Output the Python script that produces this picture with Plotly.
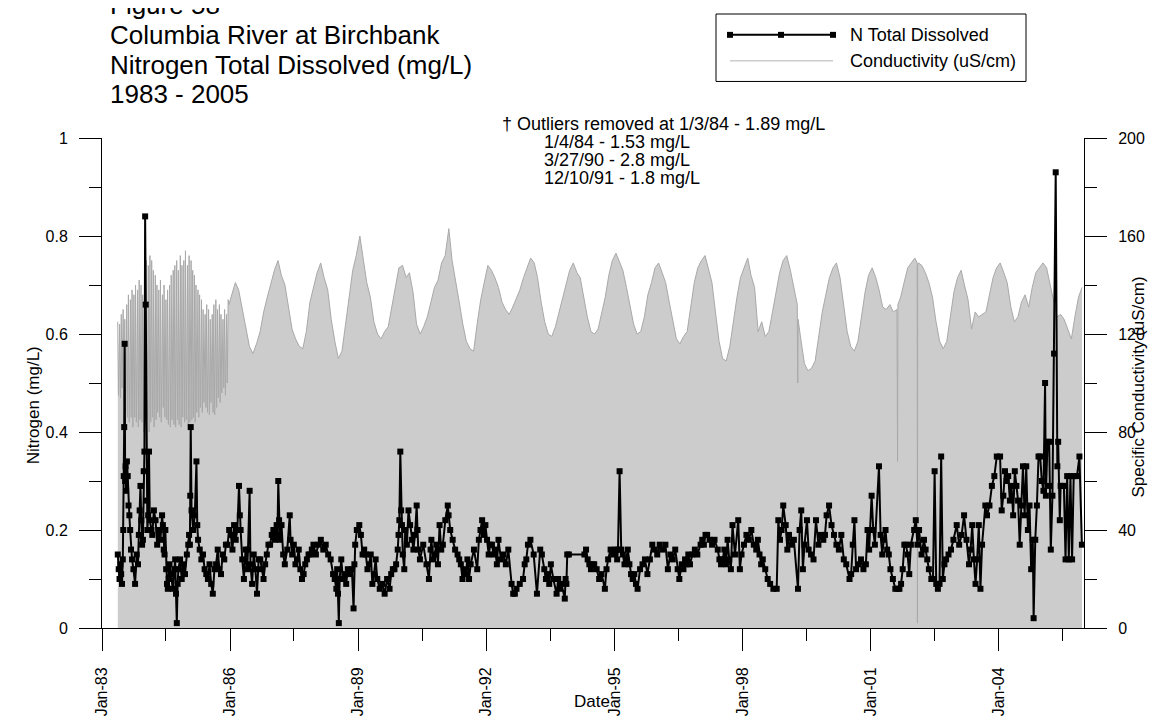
import plotly.graph_objects as go

# ---- data ----
# nitrogen total dissolved (mg/L)
n_dates = [
    "1983-05-16","1983-05-24","1983-05-31","1983-06-07","1983-06-14","1983-06-21","1983-06-28",
    "1983-07-02","1983-07-06","1983-07-10","1983-07-14","1983-07-18","1983-07-22","1983-07-26",
    "1983-08-02","1983-08-09","1983-08-16","1983-08-23","1983-08-30",
    "1983-09-06","1983-09-15","1983-09-27","1983-10-11","1983-10-25","1983-11-05",
    "1983-11-12","1983-11-19","1983-11-26","1983-12-03","1983-12-10",
    "1983-12-17","1983-12-24","1983-12-30",
    "1984-01-05","1984-01-10","1984-01-17","1984-01-24",
    "1984-01-31","1984-02-07","1984-02-14","1984-02-28",
    "1984-03-06","1984-03-20","1984-04-03","1984-04-17","1984-05-01","1984-05-15","1984-05-29","1984-06-05","1984-06-12","1984-06-19","1984-06-26",
    "1984-07-03","1984-07-10","1984-07-17","1984-07-24","1984-07-31","1984-08-14","1984-08-28","1984-09-11","1984-09-18",
    "1984-09-25","1984-10-02","1984-10-09",
    "1984-10-16","1984-10-30","1984-11-13","1984-11-27","1984-12-11","1984-12-27",
    "1985-01-08","1985-01-15","1985-01-22","1985-01-25","1985-01-29","1985-02-05","1985-02-19","1985-03-05","1985-03-19","1985-03-26",
    "1985-04-02","1985-04-16","1985-04-30","1985-05-14","1985-05-28",
    "1985-06-11","1985-06-25","1985-07-09","1985-07-23","1985-08-06","1985-08-20",
    "1985-09-03","1985-09-17","1985-10-01","1985-10-15","1985-10-29","1985-11-12","1985-11-26",
    "1985-12-10","1985-12-24",
    "1986-01-07","1986-01-21","1986-02-04","1986-02-18","1986-03-04","1986-03-18","1986-03-25","1986-04-01","1986-04-15","1986-04-29","1986-05-13",
    "1986-05-27","1986-06-03","1986-06-17","1986-06-24",
    "1986-07-08","1986-07-22","1986-08-05","1986-08-19","1986-09-02",
    "1986-09-16","1986-09-30","1986-10-14","1986-10-28","1986-11-11","1986-11-25","1986-12-09","1986-12-23",
    "1987-01-06","1987-01-20","1987-02-03","1987-02-10","1987-02-17","1987-02-24","1987-03-03","1987-03-17","1987-03-31",
    "1987-04-14","1987-05-05","1987-05-26","1987-06-02","1987-06-16","1987-06-30","1987-07-14","1987-07-28","1987-08-11",
    "1987-08-25","1987-09-08","1987-09-22","1987-10-06","1987-10-20","1987-11-03","1987-11-17","1987-12-01","1987-12-15",
    "1988-01-05","1988-01-26","1988-02-16","1988-03-08","1988-03-29","1988-04-19","1988-05-10",
    "1988-05-31","1988-06-14","1988-06-28","1988-07-05","1988-07-12","1988-07-19","1988-07-26","1988-08-09",
    "1988-08-23","1988-09-06","1988-09-20","1988-10-04","1988-10-25","1988-11-08","1988-11-22","1988-11-29",
    "1988-12-06","1988-12-20",
    "1989-01-10","1989-01-24","1989-02-07","1989-02-21","1989-03-07","1989-03-21","1989-04-04","1989-04-18","1989-05-02",
    "1989-05-16","1989-05-30","1989-06-13","1989-07-04","1989-07-25","1989-08-15","1989-09-05","1989-09-26","1989-10-10",
    "1989-10-24","1989-11-07","1989-11-21","1989-12-05","1989-12-12","1989-12-19","1989-12-27",
    "1990-01-03","1990-01-10","1990-01-17","1990-01-30","1990-02-07","1990-02-21","1990-03-07","1990-03-21","1990-04-04",
    "1990-04-18","1990-05-02","1990-05-16","1990-05-23","1990-05-30","1990-06-13","1990-07-11","1990-08-08","1990-08-29",
    "1990-09-12","1990-09-19","1990-10-03","1990-10-17","1990-10-31","1990-11-14","1990-11-28","1990-12-12","1990-12-26",
    "1991-01-16","1991-02-06","1991-02-13","1991-02-27","1991-03-20","1991-04-10","1991-05-01","1991-05-15","1991-05-29",
    "1991-06-12","1991-06-26","1991-07-10","1991-07-24","1991-08-07","1991-08-21","1991-09-18","1991-10-16","1991-10-30",
    "1991-11-13","1991-11-27","1991-12-11","1991-12-25",
    "1992-01-08","1992-01-22","1992-02-05","1992-02-19","1992-03-04","1992-03-18","1992-04-01","1992-04-15","1992-05-06",
    "1992-05-27","1992-06-17","1992-07-08","1992-08-05","1992-08-19","1992-09-02","1992-09-16","1992-10-14","1992-11-11",
    "1992-11-25","1992-12-09","1992-12-23",
    "1993-01-13","1993-02-10","1993-03-10","1993-04-07","1993-04-21","1993-05-12","1993-05-26","1993-06-09","1993-06-23",
    "1993-07-07","1993-07-28","1993-08-25","1993-09-08","1993-09-22","1993-10-06","1993-11-03","1993-11-10","1993-11-17",
    "1993-11-24","1993-12-08",
    "1994-04-20","1994-05-04","1994-05-18","1994-06-01","1994-06-15","1994-06-29","1994-07-13","1994-08-03","1994-08-24",
    "1994-09-14","1994-10-12","1994-10-26","1994-11-09","1994-11-30","1994-12-21",
    "1995-01-11","1995-01-25","1995-02-01","1995-02-15","1995-03-01","1995-03-15","1995-03-29","1995-04-12","1995-04-26",
    "1995-05-10","1995-05-24","1995-06-07","1995-06-21","1995-07-05","1995-07-19","1995-08-09","1995-08-30","1995-09-20",
    "1995-10-11","1995-11-01","1995-11-22","1995-12-13",
    "1996-01-03","1996-01-24","1996-02-14","1996-03-13","1996-04-03","1996-04-24","1996-05-15","1996-06-05","1996-06-26",
    "1996-07-10","1996-07-31","1996-08-14","1996-08-28","1996-09-11","1996-09-25","1996-10-09","1996-10-30","1996-11-20",
    "1996-12-11",
    "1997-01-08","1997-01-22","1997-02-05","1997-02-19","1997-03-05","1997-03-26","1997-04-16","1997-05-07","1997-06-04",
    "1997-06-18","1997-07-02","1997-07-16","1997-07-30","1997-08-13","1997-08-27","1997-09-10","1997-09-24","1997-10-08",
    "1997-10-29","1997-11-26","1997-12-10","1997-12-24",
    "1998-01-14","1998-02-04","1998-02-25","1998-03-18","1998-04-08","1998-04-29","1998-05-13","1998-05-27","1998-06-10",
    "1998-06-24","1998-07-15","1998-08-05","1998-08-26","1998-09-23","1998-10-21","1998-11-04","1998-11-18","1998-12-02",
    "1998-12-16",
    "1999-01-06","1999-01-20","1999-02-03","1999-02-24","1999-03-17","1999-04-21","1999-05-05","1999-05-19","1999-06-02",
    "1999-06-16","1999-07-07","1999-07-21","1999-08-11","1999-09-01","1999-09-22","1999-10-13","1999-11-03","1999-11-24",
    "1999-12-08","1999-12-22",
    "2000-01-12","2000-02-02","2000-02-23","2000-03-15","2000-04-05","2000-04-26","2000-05-17","2000-06-07","2000-07-05",
    "2000-07-19","2000-08-02","2000-08-16","2000-08-30","2000-09-20","2000-10-11","2000-11-01","2000-11-22","2000-12-06",
    "2000-12-20",
    "2001-01-10","2001-01-24","2001-02-07","2001-03-14","2001-03-28","2001-04-11","2001-04-25","2001-05-09","2001-05-23",
    "2001-06-06","2001-06-20","2001-07-11","2001-08-01","2001-08-22","2001-09-05","2001-09-19","2001-10-03","2001-10-17",
    "2001-10-31","2001-11-14","2001-11-28","2001-12-12",
    "2002-01-09","2002-01-23","2002-02-06","2002-02-20","2002-03-13","2002-04-03","2002-04-17","2002-05-01","2002-05-15",
    "2002-06-05","2002-06-19","2002-07-03","2002-07-17","2002-07-31","2002-08-14","2002-08-28","2002-09-11","2002-09-25",
    "2002-10-09","2002-10-30","2002-11-20","2002-12-11",
    "2003-01-08","2003-01-29","2003-02-19","2003-03-12","2003-04-02","2003-04-23","2003-05-07","2003-05-21","2003-06-04",
    "2003-06-18","2003-07-02","2003-07-16","2003-07-30","2003-08-13","2003-09-10","2003-09-24","2003-10-15","2003-11-05",
    "2003-11-26","2003-12-17",
    "2004-01-14","2004-01-28","2004-02-11","2004-02-25","2004-03-10","2004-03-24","2004-04-07","2004-04-21","2004-05-05",
    "2004-05-19","2004-06-02","2004-06-16","2004-06-30","2004-07-14","2004-07-28","2004-08-11","2004-08-25","2004-09-08",
    "2004-09-22","2004-10-06","2004-10-20","2004-10-27","2004-11-10","2004-11-24","2004-12-08","2004-12-22",
    "2005-01-05","2005-01-19","2005-02-02","2005-02-09","2005-02-23","2005-03-09","2005-03-16","2005-03-23","2005-04-06",
    "2005-04-20","2005-05-04","2005-05-18","2005-05-25","2005-06-08","2005-06-15","2005-06-29","2005-07-13","2005-07-27",
    "2005-08-10","2005-08-24","2005-09-07","2005-09-21","2005-10-05","2005-11-02","2005-11-23","2005-12-14",
]
n_vals = [
    0.15,0.12,0.10,0.13,0.11,0.09,0.14,
    0.20,0.31,0.41,0.58,0.30,0.33,0.28,
    0.34,0.31,0.25,0.23,0.20,
    0.16,0.14,0.12,0.09,0.15,0.13,
    0.19,0.24,0.29,0.22,0.17,
    0.18,0.32,0.36,
    0.84,0.66,0.26,0.20,
    0.23,0.36,0.22,0.20,
    0.19,0.24,0.22,0.17,0.20,0.18,0.23,0.21,0.16,0.15,0.20,
    0.12,0.09,0.08,0.10,0.13,0.11,0.08,0.12,0.14,
    0.07,0.01,0.09,
    0.12,0.14,0.10,0.13,0.11,0.15,
    0.17,0.19,0.17,0.27,0.41,0.24,0.20,0.23,0.34,0.21,
    0.18,0.16,0.14,0.15,0.12,
    0.11,0.10,0.13,0.09,0.07,0.12,
    0.13,0.16,0.12,0.11,0.15,0.14,0.17,
    0.17,0.20,
    0.19,0.16,0.21,0.18,0.20,0.29,0.23,0.20,0.14,0.10,0.16,
    0.12,0.16,0.28,0.13,
    0.09,0.15,0.12,0.07,0.14,
    0.14,0.12,0.10,0.13,0.15,0.17,0.17,0.19,
    0.20,0.18,0.21,0.19,0.30,0.22,0.18,0.21,0.15,
    0.13,0.16,0.23,0.18,0.15,0.17,0.13,0.14,0.16,
    0.12,0.10,0.11,0.13,0.14,0.15,0.15,0.16,0.17,
    0.15,0.17,0.18,0.16,0.17,0.15,0.14,
    0.11,0.10,0.08,0.12,0.07,0.01,0.10,0.14,
    0.10,0.11,0.09,0.12,0.11,0.12,0.04,0.13,
    0.17,0.20,
    0.21,0.19,0.15,0.16,0.15,0.12,0.13,0.15,0.09,
    0.11,0.14,0.10,0.08,0.09,0.07,0.10,0.08,0.11,
    0.12,0.12,0.13,0.16,0.19,0.22,0.36,
    0.24,0.21,0.15,0.12,0.20,0.17,0.24,0.21,0.18,
    0.16,0.19,0.25,0.20,0.16,0.14,0.17,0.13,0.10,
    0.16,0.18,0.14,0.15,0.17,0.13,0.21,0.16,0.17,
    0.22,0.25,0.23,0.20,0.18,0.16,0.15,0.14,0.13,
    0.10,0.12,0.11,0.14,0.10,0.13,0.16,0.12,0.18,
    0.20,0.22,0.19,0.21,
    0.18,0.15,0.17,0.17,0.15,0.16,0.13,0.18,0.14,
    0.15,0.13,0.16,0.09,0.07,0.07,0.08,0.09,0.10,
    0.13,0.14,0.17,
    0.18,0.15,0.07,0.16,0.15,0.12,0.10,0.11,0.09,
    0.13,0.10,0.07,0.10,0.08,0.09,0.06,0.10,0.09,
    0.15,0.15,
    0.15,0.16,0.14,0.13,0.12,0.13,0.13,0.12,0.10,
    0.11,0.08,0.12,0.14,0.16,0.15,
    0.16,0.14,0.16,0.32,0.16,0.15,0.13,0.14,0.16,
    0.13,0.11,0.10,0.11,0.09,0.08,0.12,0.13,0.14,
    0.11,0.14,0.17,0.16,
    0.15,0.17,0.16,0.17,0.12,0.15,0.14,0.16,0.12,
    0.10,0.13,0.12,0.14,0.13,0.15,0.13,0.15,0.16,
    0.15,
    0.17,0.18,0.17,0.19,0.19,0.18,0.17,0.18,0.16,
    0.14,0.13,0.14,0.16,0.13,0.18,0.14,0.12,0.21,
    0.15,0.22,0.12,0.15,
    0.17,0.19,0.18,0.20,0.17,0.16,0.18,0.15,0.13,
    0.14,0.12,0.10,0.09,0.08,0.08,0.22,0.18,0.20,
    0.25,
    0.21,0.16,0.19,0.17,0.18,0.08,0.20,0.24,0.12,
    0.17,0.22,0.16,0.15,0.14,0.22,0.17,0.19,0.18,
    0.19,0.23,
    0.25,0.21,0.19,0.17,0.16,0.19,0.14,0.13,0.10,
    0.11,0.17,0.22,0.12,0.13,0.14,0.12,0.13,0.20,
    0.16,
    0.27,0.20,0.17,0.33,0.19,0.15,0.18,0.20,0.16,
    0.15,0.12,0.10,0.08,0.08,0.08,0.09,0.12,0.17,
    0.17,0.15,0.11,0.17,
    0.20,0.22,0.17,0.20,0.15,0.18,0.16,0.14,0.12,
    0.10,0.10,0.32,0.09,0.08,0.09,0.35,0.10,0.13,
    0.14,0.15,0.16,0.18,
    0.21,0.17,0.19,0.23,0.18,0.13,0.16,0.21,0.14,
    0.09,0.14,0.21,0.08,0.17,0.25,0.23,0.25,0.29,
    0.31,0.35,
    0.35,0.24,0.27,0.32,0.30,0.31,0.26,0.29,0.23,
    0.32,0.29,0.26,0.17,0.25,0.33,0.23,0.33,0.20,
    0.25,0.12,0.18,0.02,0.18,0.25,0.35,0.35,
    0.30,0.28,0.50,0.27,0.38,0.38,0.29,0.16,0.27,
    0.56,0.93,0.33,0.38,0.22,0.29,0.29,0.29,0.14,
    0.31,0.14,0.31,0.14,0.31,0.31,0.35,0.17,
]

# specific conductivity (uS/cm)
cond_dates = [
    "1983-05-16","1983-05-22",
    "1983-06-01","1983-06-08","1983-06-15","1983-06-22","1983-07-01","1983-07-08","1983-07-15","1983-07-22",
    "1983-08-01","1983-08-08","1983-08-15","1983-08-22","1983-09-01","1983-09-08","1983-09-15","1983-09-22",
    "1983-10-01","1983-10-08","1983-10-15","1983-10-22","1983-11-01","1983-11-08","1983-11-15","1983-11-22",
    "1983-12-01","1983-12-08","1983-12-15","1983-12-22",
    "1984-01-01","1984-01-08","1984-01-15","1984-01-22","1984-02-01","1984-02-08","1984-02-15","1984-02-22",
    "1984-03-01","1984-03-08","1984-03-15","1984-03-22","1984-04-01","1984-04-08","1984-04-15","1984-04-22",
    "1984-05-01","1984-05-08","1984-05-15","1984-05-22","1984-06-01","1984-06-08","1984-06-15","1984-06-22",
    "1984-07-01","1984-07-08","1984-07-15","1984-07-22","1984-08-01","1984-08-08","1984-08-15","1984-08-22",
    "1984-09-01","1984-09-08","1984-09-15","1984-09-22","1984-10-01","1984-10-08","1984-10-15","1984-10-22",
    "1984-11-01","1984-11-08","1984-11-15","1984-11-22","1984-12-01","1984-12-08","1984-12-15","1984-12-22",
    "1985-01-01","1985-01-08","1985-01-15","1985-01-22","1985-02-01","1985-02-08","1985-02-15","1985-02-22",
    "1985-03-01","1985-03-08","1985-03-15","1985-03-22","1985-04-01","1985-04-08","1985-04-15","1985-04-22",
    "1985-05-01","1985-05-08","1985-05-15","1985-05-22","1985-06-01","1985-06-08","1985-06-15","1985-06-22",
    "1985-07-01","1985-07-08","1985-07-15","1985-07-22","1985-08-01","1985-08-08","1985-08-15","1985-08-22",
    "1985-09-01","1985-09-08","1985-09-15","1985-09-22","1985-10-01","1985-10-08","1985-10-15","1985-10-22",
    "1985-11-01","1985-11-08","1985-11-15","1985-11-22","1985-12-01","1985-12-08","1985-12-15","1985-12-22",
    "1986-01-15","1986-02-15","1986-03-15","1986-04-15","1986-05-15","1986-06-15","1986-07-15","1986-08-15","1986-09-15","1986-10-15","1986-11-15","1986-12-15",
    "1987-01-15","1987-02-15","1987-03-15","1987-04-15","1987-05-15","1987-06-15","1987-07-15","1987-08-15","1987-09-15","1987-10-15","1987-11-15","1987-12-15",
    "1988-01-15","1988-02-15","1988-03-15","1988-04-15","1988-05-15","1988-06-15","1988-07-15","1988-08-15","1988-09-15","1988-10-15","1988-11-15","1988-12-15",
    "1989-01-15","1989-02-15","1989-03-15","1989-04-15","1989-05-15","1989-06-15","1989-07-15","1989-08-15","1989-09-15","1989-10-15","1989-11-15","1989-12-15",
    "1990-01-15","1990-02-15","1990-03-15","1990-04-15","1990-05-15","1990-06-15","1990-07-15","1990-08-15","1990-09-15","1990-10-15","1990-11-15","1990-12-15",
    "1991-01-15","1991-02-15","1991-03-15","1991-04-15","1991-05-15","1991-06-15","1991-07-15","1991-08-15","1991-09-15","1991-10-15","1991-11-15","1991-12-15",
    "1992-01-15","1992-02-15","1992-03-15","1992-04-15","1992-05-15","1992-06-15","1992-07-15","1992-08-15","1992-09-15","1992-10-15","1992-11-15","1992-12-15",
    "1993-01-15","1993-02-15","1993-03-15","1993-04-15","1993-05-15","1993-06-15","1993-07-15","1993-08-15","1993-09-15","1993-10-15","1993-11-15","1993-12-15",
    "1994-01-15","1994-02-15","1994-03-15","1994-04-15","1994-05-15","1994-06-15","1994-07-15","1994-08-15","1994-09-15","1994-10-15","1994-11-15","1994-12-15",
    "1995-01-15","1995-02-15","1995-03-15","1995-04-15","1995-05-15","1995-06-15","1995-07-15","1995-08-15","1995-09-15","1995-10-15","1995-11-15","1995-12-15",
    "1996-01-15","1996-02-15","1996-03-15","1996-04-15","1996-05-15","1996-06-15","1996-07-15","1996-08-15","1996-09-15","1996-10-15","1996-11-15","1996-12-15",
    "1997-01-15","1997-02-15","1997-03-15","1997-04-15","1997-05-15","1997-06-15","1997-07-15","1997-08-15","1997-09-15","1997-10-15","1997-11-15","1997-12-15",
    "1998-01-15","1998-02-15","1998-03-15","1998-04-15","1998-05-15","1998-06-15","1998-07-15","1998-08-15","1998-09-15","1998-10-15","1998-11-15","1998-12-15",
    "1999-01-15","1999-02-15","1999-03-15","1999-04-15","1999-04-19","1999-04-22","1999-05-15","1999-06-15","1999-07-15","1999-08-15","1999-09-15","1999-10-15","1999-11-15","1999-12-15",
    "2000-01-15","2000-02-15","2000-03-15","2000-04-15","2000-05-15","2000-06-15","2000-07-15","2000-08-15","2000-09-15","2000-10-15","2000-11-15","2000-12-15",
    "2001-01-15","2001-02-15","2001-03-15","2001-04-15","2001-05-15","2001-06-15","2001-07-15","2001-08-15","2001-08-20","2001-08-23","2001-09-15","2001-10-15","2001-11-15","2001-12-15",
    "2002-01-15","2002-02-04","2002-02-06","2002-02-08","2002-02-15","2002-03-15","2002-04-15","2002-05-15","2002-06-15","2002-07-15","2002-08-15","2002-09-15","2002-10-15","2002-11-15","2002-12-15",
    "2003-01-15","2003-02-15","2003-03-15","2003-04-15","2003-05-15","2003-06-15","2003-07-15","2003-08-15","2003-09-15","2003-10-15","2003-11-15","2003-12-15",
    "2004-01-15","2004-02-15","2004-03-15","2004-04-15","2004-05-15","2004-06-15","2004-07-15","2004-08-15","2004-09-15","2004-10-15","2004-11-15","2004-12-15",
    "2005-01-15","2005-02-15","2005-03-15","2005-04-15","2005-05-15","2005-06-15","2005-07-15","2005-08-15","2005-09-15","2005-10-15","2005-11-15","2005-12-15",
]
cond_vals = [
    125, 95,
    124, 94, 128, 98, 130, 92, 126, 88,
    132, 86, 136, 84, 134, 86, 138, 82,
    136, 86, 140, 84, 138, 82, 142, 85,
    140, 84, 136, 80,
    146, 82, 150, 85, 148, 80, 152, 84,
    150, 86, 146, 82, 144, 85, 140, 88,
    138, 86, 142, 84, 136, 90, 140, 86,
    134, 85, 138, 83, 140, 82, 144, 85,
    146, 83, 148, 82, 150, 85, 146, 83,
    152, 82, 148, 86, 150, 84, 154, 85,
    148, 82, 152, 84, 150, 85, 146, 86,
    144, 84, 140, 88, 138, 86, 136, 90,
    134, 88, 130, 92, 128, 90, 132, 88,
    130, 87, 126, 92, 128, 88, 132, 87,
    134, 90, 130, 94, 132, 92, 128, 96,
    126, 98, 130, 95, 128, 100, 134, 132,
    136, 141, 138, 130, 122, 115, 112, 116, 121, 129, 135, 140,
    146, 150, 144, 140, 131, 122, 118, 115, 114, 121, 133, 139,
    145, 149, 143, 138, 126, 117, 110, 113, 124, 135, 146, 152,
    160, 150, 141, 135, 125, 120, 118, 121, 123, 131, 139, 147,
    148, 143, 145, 137, 124, 120, 123, 127, 133, 139, 142, 149,
    152, 163, 150, 142, 133, 124, 117, 114, 113, 124, 134, 141,
    148, 146, 143, 139, 133, 130, 128, 131, 135, 138, 143, 147,
    151, 149, 143, 133, 125, 120, 119, 123, 129, 135, 141, 146,
    149, 145, 143, 135, 127, 121, 120, 122, 128, 135, 144, 150,
    153, 149, 146, 139, 131, 124, 120, 121, 127, 136, 141, 147,
    149, 145, 141, 133, 125, 118, 116, 119, 121, 131, 141, 147,
    150, 152, 147, 141, 129, 117, 110, 109, 115, 125, 135, 143,
    147, 151, 144, 139, 121, 125, 119, 121, 129, 137, 145, 150,
    152, 146, 140, 132, 100, 126, 118, 108, 105, 106, 109, 119, 129, 136,
    143, 147, 149, 143, 133, 121, 115, 113, 117, 127, 137, 144,
    147, 143, 138, 131, 130, 132, 129, 130, 68, 132, 135, 141, 147, 149,
    151, 149, 2, 148, 149, 148, 145, 141, 135, 125, 117, 114, 117, 127, 137,
    143, 146, 140, 134, 122, 129, 127, 128, 129, 136, 143, 147,
    149, 145, 141, 131, 125, 127, 133, 136, 131, 139, 145, 147,
    149, 147, 141, 133, 127, 128, 126, 122, 118, 127, 135, 139,
]
assert len(n_dates) == len(n_vals)
assert len(cond_dates) == len(cond_vals)

title_lines = ["Figure 58", "Columbia River at Birchbank",
               "Nitrogen Total Dissolved (mg/L)", "1983 - 2005"]
note_lines = ["\u2020 Outliers removed at 1/3/84 - 1.89 mg/L", "1/4/84 - 1.53 mg/L",
              "3/27/90 - 2.8 mg/L", "12/10/91 - 1.8 mg/L"]

# ---- layout helpers (pixel -> paper) ----
W, H = 1159, 720
L, R, T, B = 94, 83, 130, 96
PW, PH = W - L - R, H - T - B


def fx(px):
    return (px - L) / PW


def fy(py):
    return (H - B - py) / PH


FONT = "Liberation Sans, Arial, sans-serif"

fig = go.Figure()
fig.add_trace(go.Scatter(
    x=cond_dates, y=cond_vals, name="Conductivity (uS/cm)",
    mode="lines", line=dict(color="#a9a9a9", width=1),
    fill="tozeroy", fillcolor="#cccccc", yaxis="y",
))
fig.add_trace(go.Scatter(
    x=n_dates, y=n_vals, name="N Total Dissolved",
    mode="lines+markers", line=dict(color="black", width=2),
    marker=dict(symbol="square", size=6, color="black"), yaxis="y2",
))

annotations = []
for i, t in enumerate(title_lines):
    annotations.append(dict(text=t, x=fx(100), y=fy(-4 + 30 * i), xref="paper", yref="paper",
                            xanchor="left", yanchor="middle", showarrow=False,
                            font=dict(size=26, color="black")))
note_y = [116, 134, 152, 170]
for i, t in enumerate(note_lines):
    annotations.append(dict(text=t, x=fx(492 if i == 0 else 534), y=fy(note_y[i]),
                            xref="paper", yref="paper", xanchor="left", yanchor="middle",
                            showarrow=False, font=dict(size=18, color="black")))
# legend text
for t, yy in [("N Total Dissolved", 26), ("Conductivity (uS/cm)", 52)]:
    annotations.append(dict(text=t, x=fx(840), y=fy(yy), xref="paper", yref="paper",
                            xanchor="left", yanchor="middle", showarrow=False,
                            font=dict(size=18, color="black")))
# axis titles
annotations.append(dict(text="Nitrogen (mg/L)", x=fx(14), y=fy(400), xref="paper", yref="paper",
                        textangle=-90, showarrow=False, font=dict(size=17, color="black")))
annotations.append(dict(text="Specific Conductivity (uS/cm)", x=fx(1142), y=fy(381), xref="paper",
                        yref="paper", textangle=-90, showarrow=False, font=dict(size=17, color="black")))
annotations.append(dict(text="Date", x=fx(584), y=fy(710), xref="paper", yref="paper",
                        showarrow=False, font=dict(size=17, color="black")))

shapes = [
    dict(type="rect", xref="paper", yref="paper", x0=fx(708), x1=fx(1018), y0=fy(73), y1=fy(5),
         line=dict(color="black", width=1), fillcolor="white", layer="above"),
    dict(type="line", xref="paper", yref="paper", x0=fx(722), x1=fx(825), y0=fy(26), y1=fy(26),
         line=dict(color="black", width=2)),
    dict(type="line", xref="paper", yref="paper", x0=fx(722), x1=fx(825), y0=fy(52), y1=fy(52),
         line=dict(color="#cccccc", width=1.5)),
]
for mx in (722, 773, 825):
    shapes.append(dict(type="rect", xref="paper", yref="paper", x0=fx(mx - 3), x1=fx(mx + 3),
                       y0=fy(29), y1=fy(23), line=dict(width=0), fillcolor="black"))

axis_common = dict(showline=True, linecolor="black", linewidth=1, ticks="outside", ticklen=22,
                   tickcolor="black", showgrid=False, zeroline=False,
                   tickfont=dict(size=16, color="black"))

fig.update_layout(
    width=W, height=H,
    margin=dict(l=L, r=R, t=T, b=B),
    paper_bgcolor="white", plot_bgcolor="white",
    font=dict(family=FONT, color="black"),
    showlegend=False,
    xaxis=dict(type="date", range=["1983-01-01", "2006-01-01"], dtick="M36", tick0="1983-01-01",
               tickformat="%b-%y", tickangle=-90, ticklabelstandoff=10,
               minor=dict(dtick="M18", tick0="1983-01-01", ticks="outside", ticklen=12, tickcolor="black"),
               **axis_common),
    yaxis=dict(side="right", range=[0, 200], dtick=40, ticklabelstandoff=8,
               minor=dict(dtick=20, ticks="outside", ticklen=12, tickcolor="black"), **axis_common),
    yaxis2=dict(side="left", overlaying="y", range=[0, 1], dtick=0.2, ticklabelstandoff=8,
                minor=dict(dtick=0.1, ticks="outside", ticklen=12, tickcolor="black"), **axis_common),
    annotations=annotations,
    shapes=shapes,
)

fig.write_html("out.html")
